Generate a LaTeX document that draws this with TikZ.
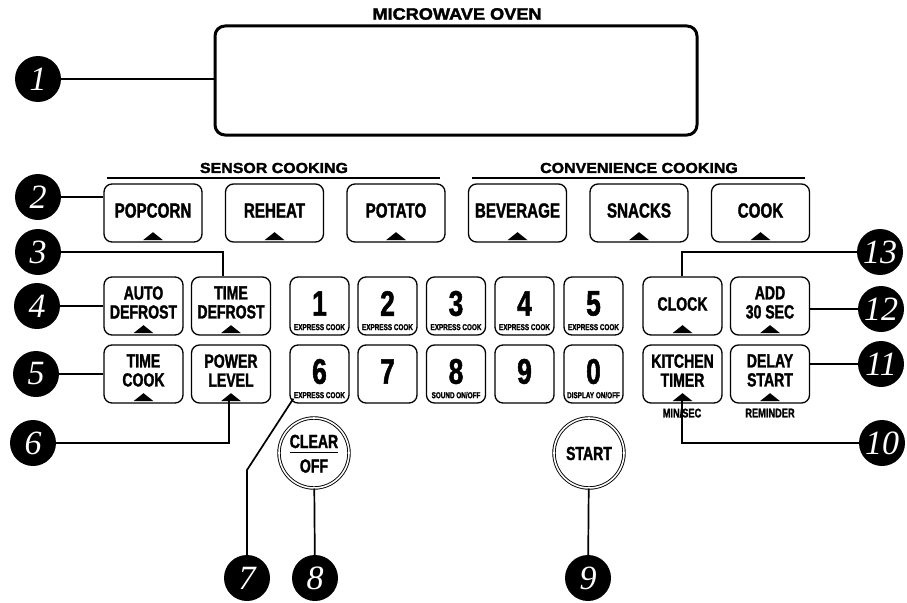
\documentclass[tikz,border=0pt]{standalone}
\usepackage{fontspec}
\usepackage{tikz}
\newfontfamily\keyfont[FakeStretch=0.74, BoldFeatures={FakeBold=1.5}]{Liberation Sans}
\newfontfamily\headfont[FakeStretch=1.1, BoldFeatures={FakeBold=2}]{Liberation Sans}
\newfontfamily\callfont{Liberation Serif}
\newcommand\kfs[1]{\fontsize{#1}{#1}\selectfont}
\newcommand\keytri[1]{\fill ([xshift=-10pt,yshift=2.5pt]#1.south) -- ++(20,0) -- ++(-10,-8) -- cycle;}

\begin{document}
\begin{tikzpicture}[x=1pt,y=-1pt,
    key/.style={draw, line width=1.3pt, rounded corners=8pt, minimum width=98pt, minimum height=58pt, inner sep=0pt},
    skey/.style={key, minimum width=79pt},
    dkey/.style={key, minimum width=59pt},
    ktxt/.style={inner sep=0pt, align=center, font=\keyfont\bfseries\kfs{19}},
    btxt/.style={inner sep=0pt, font=\keyfont\bfseries\kfs{20.5}},
    digit/.style={inner sep=0pt, font=\keyfont\bfseries\kfs{35.5}},
    tiny/.style={inner sep=0pt, font=\keyfont\bfseries\kfs{8.6}},
    note/.style={inner sep=0pt, font=\keyfont\bfseries\kfs{12.5}},
    grp/.style={inner sep=0pt, font=\headfont\bfseries\kfs{14.5}},
    roundkey/.style={circle, draw, double, line width=0.9pt, double distance=1.6pt, minimum size=70pt, inner sep=0pt},
    badge/.style={circle, fill=black, minimum size=46pt, inner sep=0pt, text=white, font=\callfont\itshape\kfs{34}},
    lead/.style={line width=1.7pt}]
  \useasboundingbox (0,0) rectangle (907,602);

  % display
  \node[grp, font=\headfont\bfseries\kfs{16.5}] (title) at (457,14) {MICROWAVE OVEN};
  \node[draw, line width=3pt, rounded corners=10pt, minimum width=482pt, minimum height=109pt] (display) at (456,80.5) {};

  % group headings
  \node[grp] (sensor) at (274,168) {SENSOR COOKING};
  \node[grp] (conv) at (639,168) {CONVENIENCE COOKING};
  \draw[line width=1.2pt] (107,178) -- (440,178);
  \draw[line width=1.2pt] (472,178) -- (805,178);

  % row 1
  \node[key] (popcorn) at (153,213) {};
  \node[key] (reheat) at (274.5,213) {};
  \node[key] (potato) at (396,213) {};
  \node[key] (beverage) at (517.5,213) {};
  \node[key] (snacks) at (639,213) {};
  \node[key] (cook) at (760.5,213) {};
  \node[btxt] (popcorn-t) at ([yshift=2.5pt]popcorn.center) {POPCORN};
  \node[btxt] (reheat-t) at ([yshift=2.5pt]reheat.center) {REHEAT};
  \node[btxt] (potato-t) at ([yshift=2.5pt]potato.center) {POTATO};
  \node[btxt] (beverage-t) at ([yshift=2.5pt]beverage.center) {BEVERAGE};
  \node[btxt] (snacks-t) at ([yshift=2.5pt]snacks.center) {SNACKS};
  \node[btxt] (cook-t) at ([yshift=2.5pt]cook.center) {COOK};

  % row 2
  \node[skey] (adefrost) at (143.5,306) {};
  \node[skey] (tdefrost) at (231,306) {};
  \node[skey] (clock) at (682.5,306) {};
  \node[skey] (add30) at (770,306) {};
  \node[ktxt] (adefrost-t) at ([yshift=3.5pt]adefrost.center) {AUTO\\DEFROST};
  \node[ktxt] (tdefrost-t) at ([yshift=3.5pt]tdefrost.center) {TIME\\DEFROST};
  \node[ktxt] (clock-t) at ([yshift=2pt]clock.center) {CLOCK};
  \node[ktxt] (add30-t) at ([yshift=3.5pt]add30.center) {ADD\\30 SEC};
  \foreach \d/\x in {1/319.5,2/387.5,3/456,4/524.5,5/593.5} {
    \node[dkey] (k\d) at (\x,306) {};
    \node[digit] (k\d-d) at ([yshift=2.5pt]k\d.center) {\d};
    \node[tiny] (k\d-s) at ([yshift=8.5pt]k\d.south) {EXPRESS COOK};
  }

  % row 3
  \node[skey] (tcook) at (143.5,374) {};
  \node[skey] (plevel) at (231,374) {};
  \node[skey] (ktimer) at (682.5,374) {};
  \node[skey] (dstart) at (770,374) {};
  \node[ktxt] (tcook-t) at ([yshift=3.5pt]tcook.center) {TIME\\COOK};
  \node[ktxt] (plevel-t) at ([yshift=3.5pt]plevel.center) {POWER\\LEVEL};
  \node[ktxt] (ktimer-t) at ([yshift=3.5pt]ktimer.center) {KITCHEN\\TIMER};
  \node[ktxt] (dstart-t) at ([yshift=3.5pt]dstart.center) {DELAY\\START};
  \foreach \d/\x in {6/319.5,7/387.5,8/456,9/524.5,0/593.5} {
    \node[dkey] (k\d) at (\x,374) {};
    \node[digit] (k\d-d) at ([yshift=2.5pt]k\d.center) {\d};
  }
  \node[tiny] (k6-s) at ([yshift=8.5pt]k6.south) {EXPRESS COOK};
  \node[tiny] (k8-s) at ([yshift=8.5pt]k8.south) {SOUND ON/OFF};
  \node[tiny] (k0-s) at ([yshift=8.5pt]k0.south) {DISPLAY ON/OFF};
  \node[note] (minsec) at (682,413) {MIN/SEC};
  \node[note] (reminder) at (770,413) {REMINDER};

  % pad marks
  \foreach \k in {popcorn,reheat,potato,beverage,snacks,cook,adefrost,tdefrost,clock,add30,tcook,plevel,ktimer,dstart} {
    \keytri{\k}
  }

  % round keys
  \node[roundkey] (clear) at (314,453) {};
  \node[ktxt] (clear-t) at (314,441.5) {CLEAR};
  \draw[line width=1.3pt] ([yshift=-4pt]clear-t.south west) -- ([yshift=-4pt]clear-t.south east);
  \node[ktxt] (off-t) at (314,466) {OFF};
  \node[roundkey] (start) at (589,453) {};
  \node[ktxt] (start-t) at (589,453.5) {START};

  % callouts
  \node[badge] (c1) at (38,79) {1};
  \node[badge] (c2) at (38,197) {2};
  \node[badge] (c3) at (38,252) {3};
  \node[badge] (c4) at (37,306) {4};
  \node[badge] (c5) at (36,374) {5};
  \node[badge] (c6) at (33,443) {6};
  \node[badge] (c7) at (247,578) {7};
  \node[badge] (c8) at (315,578) {8};
  \node[badge] (c9) at (588,578) {9};
  \node[badge] (c10) at (882,443) {10};
  \node[badge] (c11) at (881,364) {11};
  \node[badge] (c12) at (881,309) {12};
  \node[badge] (c13) at (880,252) {13};

  \draw[lead] (c1) -- (c1 -| display.west);
  \draw[lead] (c2) -- (c2 -| popcorn.west);
  \draw[lead] (c3) -| ([xshift=-8pt]tdefrost.north);
  \draw[lead] (c4) -- (c4 -| adefrost.west);
  \draw[lead] (c5) -- (c5 -| tcook.west);
  \draw[lead] (c6) -| ([xshift=-2pt,yshift=3pt]plevel.south);
  \coordinate (bend7) at (247,470);
  \draw[lead] (c7) -- (bend7) -- ([xshift=4pt,yshift=5pt]k6.south west);
  \draw[lead] (c8) -- (clear);
  \draw[lead] (c9) -- (start);
  \draw[lead] (c10) -| ([xshift=-0.5pt,yshift=3pt]ktimer.south);
  \draw[lead] (c11) -- (c11 -| dstart.east);
  \draw[lead] (c12) -- (c12 -| add30.east);
  \draw[lead] (c13) -| ([xshift=-0.5pt]clock.north);
\end{tikzpicture}
\end{document}
